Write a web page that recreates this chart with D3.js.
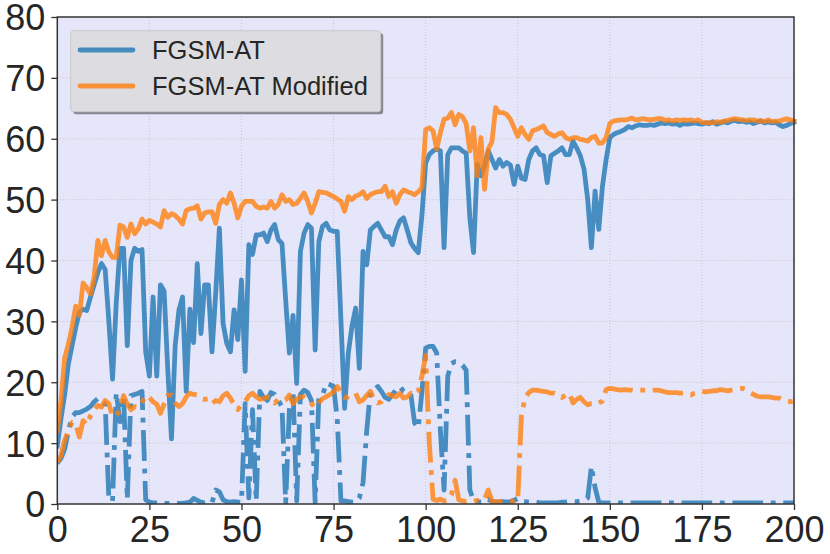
<!DOCTYPE html>
<html><head><meta charset="utf-8">
<script src="https://cdn.jsdelivr.net/npm/d3@7"></script>
<style>
html,body{margin:0;padding:0;background:#fff;}
svg{display:block;font-family:"Liberation Sans",Arial,Helvetica,sans-serif;}
</style></head>
<body><svg id="chart" width="830" height="554"></svg>
<script>
// ---------- data ----------
const xTicks = [0,25,50,75,100,125,150,175,200];
const yTicks = [0,10,20,30,40,50,60,70,80];
const seriesNames = ["FGSM-AT","FGSM-AT Modified"];

// FGSM-AT (solid)
const fgsmClean = [
9.5,14,18,23,26,29,31.5,32,31.8,34,
36,38,39.5,38.5,30,20.5,33,42,42,26,
40,42,41.5,41.8,25,21,34,21,36,35,
22,10.7,26,31.8,34,18.5,32,26.5,39.5,28,
36,36,25,34.6,45.3,29.7,26.4,25,31.9,27,
36.8,21.8,42.6,41,44.2,44.2,44.5,43.1,45,45.9,
43.4,42.8,33.5,24.8,31,19.8,41.5,44.5,45.9,45.3,
25.3,43.1,45.6,46.1,45,44.8,44.8,30.2,15.7,24.8,
29.2,32.2,22.3,41.5,39.3,45,45.6,46.1,45,43.9,
43.9,42.6,45,46.5,47,45,42.9,42,41.3,47.5,
56,57.4,58,58.3,58,42.1,57.4,58.5,58.5,58.5,
58,57.6,47,41.3,55.8,53.9,55.5,58,56.6,55.2,
56.6,55.5,56.1,55.7,52.5,55.5,53.5,53.3,56.6,58,
58.5,57.4,57.2,52.8,57.2,57.6,58,58.5,57.4,57.4,
59.6,58.5,57.2,55,50,42.1,51.4,45.1,52.2,56.6,
60.2,60.7,61,61.2,61.5,62,61.8,62.1,62.3,62.2,
62.2,62.3,62.2,62.4,62.6,62.5,62.6,62.4,62.5,62.2,
62.5,62.4,62.5,62.6,62.5,62.4,62.6,62.5,62.8,62.4,
62.6,62.8,62.6,62.9,63,62.8,62.9,62.7,62.8,62.5,
62.7,62.9,62.6,62.8,62.6,62.7,62.3,62,62.2,62.5,
62.7];

// FGSM-AT Modified (solid)
const fgsmModClean = [
12,17,24,26.2,29,32.5,31,36.3,35.5,34.5,
37.3,43.3,40.8,43.3,41.4,40.5,40.5,45.8,45.5,43.8,
46,44.4,45.2,46.8,46,46.6,46.3,46,45.5,48.2,
47.1,47.7,47.4,46.8,46,48.2,48.5,48.6,49,46.8,
47.8,48,48,46.1,49.2,50,49.4,51.1,49.4,47,
48.9,49.7,49.7,49.7,48.9,48.6,48.8,48.6,49.7,48.6,
49.2,50.8,49.7,50,49.2,49.4,50.2,51.1,49.7,47.8,
49.4,51.3,51.2,51.1,50.8,50.5,50.1,49.7,48.1,50.5,
50,50.6,50.8,51.3,50.2,50.8,51.1,51.3,51.3,52.2,
50.5,51.3,49.4,50.8,51.6,51.3,51.1,50.8,51.3,52,
61.5,61.8,61.3,58.3,61,63.2,63.4,64.3,62.3,64,
63.6,62.5,58,61.8,53.9,60.2,51.7,58.3,59.5,65.1,
64.3,64.3,64,63.2,61.8,60.4,61.8,60.7,59.9,61.3,
61.5,61.8,62.1,61,60.7,60.4,60.8,61,60.2,59.9,
60.2,60.2,59.9,59.8,59.6,60.2,60.4,59.3,59.3,60.2,
62.5,62.9,63,63.1,63.1,63.2,63.4,63.1,63.2,63.3,
63.2,63.1,63.2,63.3,63.3,63,63.1,62.9,63.1,63,
63.1,63,63.1,62.9,63.1,62.7,62.6,62.7,62.6,62.8,
62.7,62.9,63,63.2,63.3,63.2,63.1,63,63.1,63.1,
62.9,63,62.8,63.1,62.8,62.9,62.9,63.1,63.3,63.1,
62.9];

// FGSM-AT (dash-dot)
const fgsmAdv = [
6.7,7.5,9,12,14.3,15,15,15.3,15.6,16,
16.8,17.3,17.2,16.4,0.8,0.5,18.3,13.5,17.6,0.8,
17.8,18,18.2,18.5,0.7,0.3,0.2,0.2,0.1,0.1,
0.1,0.1,0.2,0.1,0.1,0.2,0.3,0.9,0.6,0.3,
0.2,0.3,0.2,2.3,2,0.7,0.4,0.3,0.4,0.3,
0.3,16.5,1,15.5,0.5,18.5,17.5,17,18.3,18,
17,16,0.3,15.5,18.5,0.5,18,18.7,18.3,17,
0.3,17.5,17.8,19.8,19.6,19.3,14,0.5,0.5,0.4,
0.3,0.3,1,3.5,12,18.5,18.8,19.3,18.5,17.5,
17.2,18,18.8,19.3,18.5,18.2,17.9,13.3,12.5,18.5,
25.6,25.9,25.9,24.8,12,2.3,21,23.1,23.4,23.3,
22.8,22,2.3,0.6,0.4,0.3,0.4,0.8,0.4,0.3,
0.3,0.4,0.3,0.4,0.6,0.9,0.5,0.4,0.3,0.3,
0.3,0.2,0.2,0.2,0.2,0.2,0.2,0.3,0.3,0.4,
0.4,0.4,0.5,0.6,1,6.2,2.7,0.3,0.2,0.2,
0.2,0.2,0.2,0.2,0.2,0.2,0.2,0.2,0.2,0.2,
0.2,0.2,0.2,0.2,0.2,0.2,0.2,0.2,0.2,0.2,
0.2,0.2,0.2,0.2,0.2,0.2,0.2,0.2,0.2,0.2,
0.2,0.2,0.2,0.2,0.2,0.2,0.2,0.2,0.2,0.2,
0.2,0.2,0.2,0.2,0.2,0.2,0.2,0.2,0.2,0.2,
0.2];

// FGSM-AT Modified (dash-dot)
const fgsmModAdv = [
6.8,8,10.5,12,13.4,13.2,11,13.7,13,14.5,
15.5,16.2,15.9,17,16.5,14.4,14.5,15.5,17.8,16.4,
15.5,16,15.9,16.7,17.8,17.5,16.8,16.4,14.9,16.4,
17.9,17.9,16.6,16,16.5,17.6,18.2,18,17.9,17.3,
17.2,17.3,16.5,17,16.8,17.8,18.2,17.4,16.3,15.5,
16.3,16.8,17.8,18.2,17.6,17.2,17.3,17.6,17.5,16.6,
17.2,17,17.1,17.9,16.5,17.2,17.6,17.6,17.2,16.5,
15.8,16.6,17.3,17.6,18,18.4,19.3,18.5,17.5,17.6,
18,18.2,16.8,17.1,17.8,18.5,17.2,16.6,16.8,17.6,
18,17.8,17.6,18.2,17.4,17.6,18.2,17.9,18.5,21,
24.4,10,0.8,0.6,0.8,0.5,0.6,1.5,3.9,0.7,
0.5,0.4,0.5,0.4,0.6,0.5,0.8,2.3,0.5,0.4,
0.4,0.5,0.6,0.5,0.4,0.5,14.5,17.5,18.3,18.7,
18.7,18.6,18.5,18.4,18.2,18.2,18,17.5,17.9,18.2,
16.6,17.2,17.5,16.8,16.3,16.5,16.4,16.6,16.9,18.8,
19,18.9,18.8,18.7,18.8,18.7,18.7,18.6,18.7,18.7,
18.7,18.6,18.7,18.7,18.6,18.4,18.3,18.3,18.3,18.2,
18.2,18,17.9,18.2,18.4,18.5,18.4,18.5,18.6,18.6,
18.8,18.7,18.6,18.7,18.8,18.9,19,18.8,18.3,18,
17.7,17.6,17.6,17.6,17.5,17.4,17.4,17.1,16.9,16.8,
16.9];

// ---------- chart ----------
const plot = {left:57.3, right:794, top:17, bottom:504};
const svg = d3.select("#chart");
const x = d3.scaleLinear().domain([0,200]).range([plot.left, plot.right]);
const y = d3.scaleLinear().domain([0,80]).range([plot.bottom, plot.top]);

const BLUE = "#1f77b4", ORANGE = "#ff7f0e";
const LW = 4.8;

svg.append("rect").attr("x",plot.left).attr("y",plot.top)
  .attr("width",plot.right-plot.left).attr("height",plot.bottom-plot.top)
  .attr("fill","#e6e6fa");

// grid
const grid = svg.append("g");
grid.selectAll("line.gx").data(xTicks.slice(1,-1)).enter().append("line")
  .attr("x1",d=>x(d)).attr("x2",d=>x(d)).attr("y1",plot.top).attr("y2",plot.bottom)
  .attr("stroke","#c6c6cc").attr("stroke-width",1).attr("stroke-dasharray","1,2");
grid.selectAll("line.gy").data(yTicks.slice(1,-1)).enter().append("line")
  .attr("y1",d=>y(d)).attr("y2",d=>y(d)).attr("x1",plot.left).attr("x2",plot.right)
  .attr("stroke","#c6c6cc").attr("stroke-width",1).attr("stroke-dasharray","1,2");

// clip
svg.append("clipPath").attr("id","clip").append("rect")
  .attr("x",plot.left).attr("y",plot.top-3)
  .attr("width",plot.right-plot.left+3).attr("height",plot.bottom-plot.top+3);

const line = d3.line().x((d,i)=>x(i)).y(d=>y(d));
const g = svg.append("g").attr("clip-path","url(#clip)");
const dashdot = [6.4*LW,1.6*LW,1.0*LW,1.6*LW].join(",");

const series = [
  {data:fgsmClean, color:BLUE, dash:null},
  {data:fgsmAdv, color:BLUE, dash:dashdot},
  {data:fgsmModClean, color:ORANGE, dash:null},
  {data:fgsmModAdv, color:ORANGE, dash:dashdot}
];
series.forEach(s=>{
  const p = g.append("path").datum(s.data).attr("d",line)
    .attr("fill","none").attr("stroke",s.color).attr("stroke-opacity",0.8)
    .attr("stroke-width",LW).attr("stroke-linejoin","round");
  if (s.dash) p.attr("stroke-dasharray",s.dash).attr("stroke-linecap","butt");
  else p.attr("stroke-linecap","square");
});

// spines
svg.append("rect").attr("x",plot.left).attr("y",plot.top)
  .attr("width",plot.right-plot.left).attr("height",plot.bottom-plot.top)
  .attr("fill","none").attr("stroke","#333").attr("stroke-width",1.5);

// axes
const xAxis = d3.axisBottom(x).tickValues(xTicks).tickSize(6).tickPadding(5).tickFormat(d3.format("d"));
const yAxis = d3.axisLeft(y).tickValues(yTicks).tickSize(6).tickPadding(6).tickFormat(d3.format("d"));
const gx = svg.append("g").attr("transform",`translate(0,${plot.bottom})`).call(xAxis);
const gy = svg.append("g").attr("transform",`translate(${plot.left},0)`).call(yAxis);
[gx,gy].forEach(a=>{
  a.select(".domain").remove();
  a.selectAll(".tick line").attr("stroke","#333").attr("stroke-width",1.3);
  a.selectAll(".tick text").attr("fill","#262626")
    .style("font-size","36px").style("font-family",'"Liberation Sans",Arial,sans-serif');
});
gx.selectAll(".tick text").attr("dy","0.74em");
gy.selectAll(".tick text").attr("dy","0.36em");

// legend
const lg = svg.append("g");
const lb = {x:70.7, y:30.7, w:310, h:81};
lg.append("rect").attr("x",lb.x+2.5).attr("y",lb.y+2.5).attr("width",lb.w).attr("height",lb.h)
  .attr("rx",3).attr("fill","#7c7c84").attr("opacity",0.9);
lg.append("rect").attr("x",lb.x).attr("y",lb.y).attr("width",lb.w).attr("height",lb.h)
  .attr("rx",3).attr("fill","#dddde1").attr("stroke","#c8c8cc").attr("stroke-width",1);
const legendColors = [BLUE, ORANGE];
seriesNames.forEach((n,i)=>{
  const yy = 50 + i*36;
  lg.append("line").attr("x1",80).attr("x2",133).attr("y1",yy).attr("y2",yy)
    .attr("stroke",legendColors[i]).attr("stroke-opacity",0.8).attr("stroke-width",LW)
    .attr("stroke-linecap","round");
  lg.append("text").attr("x",152).attr("y",yy+9.3).text(n)
    .attr("fill","#262626").style("font-size","25.5px");
});
</script></body></html>
